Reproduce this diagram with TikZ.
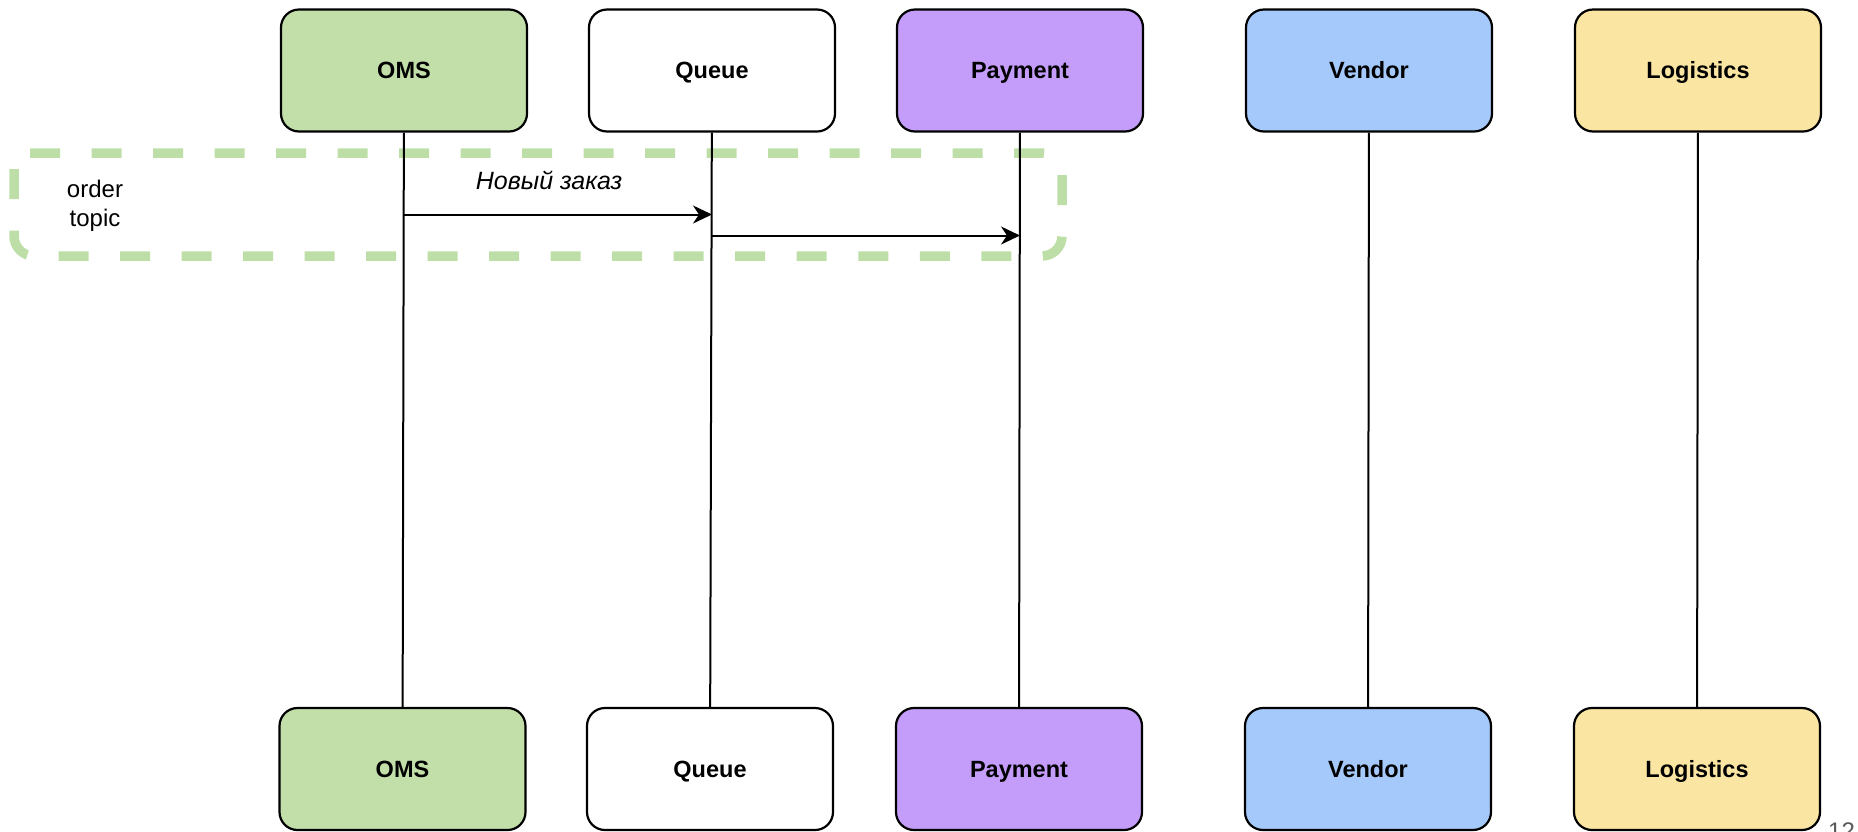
\documentclass[tikz,border=0pt]{standalone}
\usepackage{fontspec}
\setmainfont{Liberation Sans}
\usetikzlibrary{arrows.meta}
\definecolor{omsgreen}{RGB}{194,223,170}
\definecolor{paypurple}{RGB}{196,156,250}
\definecolor{vendblue}{RGB}{165,201,250}
\definecolor{logyellow}{RGB}{250,229,162}
\definecolor{topicgreen}{RGB}{190,222,168}
\definecolor{pagegray}{RGB}{90,90,90}

\begin{document}
\begin{tikzpicture}[x=1pt,y=-1pt,
  actor/.style={draw=black, line width=2.2pt, rounded corners=18pt,
    minimum width=246pt, minimum height=122pt, inner sep=0pt,
    text height=16.8pt, text depth=0pt,
    font=\fontsize{23.5}{28}\selectfont\bfseries},
  lifeline/.style={draw=black, line width=2pt},
  msg/.style={draw=black, line width=2pt,
    -{Stealth[length=19pt,width=18pt,inset=6pt]}},
  topicbox/.style={draw=topicgreen, line width=9.5pt,
    dash pattern=on 30pt off 31.5pt, rounded corners=20pt},
  notetext/.style={font=\fontsize{24}{29}\selectfont, inner sep=0pt}
]
\useasboundingbox (0,0) rectangle (1858,831);
\clip (0,0) rectangle (1858,831);

% order topic frame, behind the lifelines (its top-left corner falls in a dash gap)
\draw[topicbox] (30,153) -- (1062,153) -- (1062,256) -- (14,256) -- (14,169);
\node[notetext, align=center] (topic) at (95,206) {order\\topic};

% participants, top row
\node[actor, fill=omsgreen]  (omsT)  at (404,70.5)  {OMS};
\node[actor, fill=white]     (queT)  at (712,70.5)  {Queue};
\node[actor, fill=paypurple] (payT)  at (1020,70.5) {Payment};
\node[actor, fill=vendblue]  (venT)  at (1369,70.5) {Vendor};
\node[actor, fill=logyellow] (logT)  at (1698,70.5) {Logistics};

% participants, bottom row
\node[actor, fill=omsgreen]  (omsB)  at (402.5,769) {OMS};
\node[actor, fill=white]     (queB)  at (710,769)   {Queue};
\node[actor, fill=paypurple] (payB)  at (1019,769)  {Payment};
\node[actor, fill=vendblue]  (venB)  at (1368,769)  {Vendor};
\node[actor, fill=logyellow] (logB)  at (1697,769)  {Logistics};

% lifelines
\draw[lifeline] (omsT) -- (omsB);
\draw[lifeline] (queT) -- (queB);
\draw[lifeline] (payT) -- (payB);
\draw[lifeline] (venT) -- (venB);
\draw[lifeline] (logT) -- (logB);

% messages
\coordinate (row1) at (0,214.5);
\coordinate (row2) at (0,235.5);
\draw[msg] (omsT.south |- row1) -- (queT.south |- row1)
  node[midway, xshift=-9pt, yshift=34.5pt, font=\fontsize{25}{30}\selectfont\itshape] (lbl1) {Новый заказ};
\draw[msg] (queT.south |- row2) -- (payT.south |- row2);

% page number
\node[font=\fontsize{24}{28}\selectfont, text=pagegray, anchor=north west, inner sep=0pt] (pagenum) at (1828,823) {12};
\end{tikzpicture}
\end{document}
